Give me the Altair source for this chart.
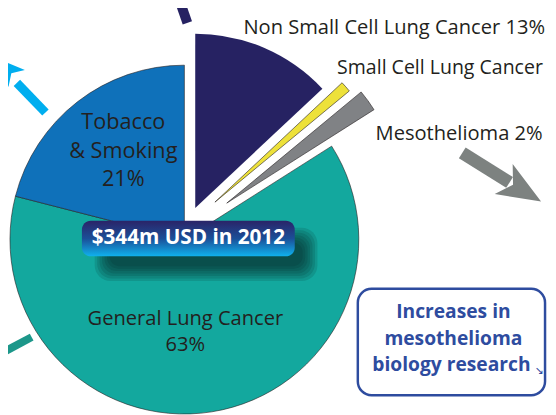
import altair as alt
import pandas as pd

# ---- data ----
categories = ["Non Small Cell Lung Cancer", "Small Cell Lung Cancer", "Mesothelioma",
              "General Lung Cancer", "Tobacco & Smoking"]
shares = [13, 1, 2, 63, 21]
slice_colors = ["#262262", "#ede13a", "#808285", "#13a89e", "#0f71ba"]
total_label = "$344m USD in 2012"
box_lines = ["Increases in", "mesothelioma", "biology research"]

df = pd.DataFrame({"category": categories, "share": shares, "order": list(range(len(categories)))})

W, H = 548, 407
R = 177
FONT = "Open Sans"
DARK = "#231f20"
BOXBLUE = "#2e4c9f"

base = alt.Chart(df).transform_stack(
    stack="share", groupby=[], as_=["t0", "t1"], sort=[alt.SortField("order")]
)
color = alt.Color("category:N", scale=alt.Scale(domain=categories, range=slice_colors), legend=None)
theta = alt.Theta("t0:Q", scale=alt.Scale(domain=[0, 100]))
theta2 = alt.Theta2("t1:Q")


def wedge(cats, cx, cy, sw=0.6):
    return base.transform_filter(
        alt.FieldOneOfPredicate(field="category", oneOf=cats)
    ).mark_arc(x=cx, y=cy, radius=R, stroke=DARK, strokeWidth=sw).encode(
        theta=theta, theta2=theta2, color=color
    )


blank = alt.Data(values=[{}])


def label(text, x, y, size=20.4, align="center", color=DARK, weight="normal", font=FONT):
    return alt.Chart(blank).mark_text(
        align=align, baseline="alphabetic", fontSize=size, font=font,
        fontWeight=weight, color=color
    ).encode(x=alt.value(x), y=alt.value(y), text=alt.value(text))


def bar(x1, y1, x2, y2, color, width):
    return alt.Chart(blank).mark_rule(color=color, strokeWidth=width, strokeCap="butt").encode(
        x=alt.value(x1), y=alt.value(y1), x2=alt.value(x2), y2=alt.value(y2))


HEAD = "M0,-1 L0.8,1 L0,0.5 L-0.8,1 Z"


def head(x, y, angle, size, color):
    return alt.Chart(blank).mark_point(
        shape=HEAD, filled=True, color=color, size=size, angle=angle, opacity=1, strokeWidth=0
    ).encode(x=alt.value(x), y=alt.value(y))


def rect(x1, y1, x2, y2, **kw):
    return alt.Chart(blank).mark_rect(**kw).encode(
        x=alt.value(x1), y=alt.value(y1), x2=alt.value(x2), y2=alt.value(y2))


# soft drop shadow of the badge, built from stacked translucent rounded rects
shadow = [
    rect(88 + 2.5 * i, 220 + 2.5 * i, 314 - 2.5 * i, 274 - 2.5 * i,
         fill="#0a2222", opacity=0.14, cornerRadius=16 - i)
    for i in range(7)
]

layers = [
    # pie
    wedge(["General Lung Cancer", "Tobacco & Smoking"], 179, 232),
    wedge(["Non Small Cell Lung Cancer"], 190, 200, sw=0),
    wedge(["Small Cell Lung Cancer"], 210, 194),
    wedge(["Mesothelioma"], 222, 195),
    # arrows around
    bar(182, 12, 175, -8, "#262262", 10),
    bar(38, 103, 9, 73, "#00aeef", 9),
    head(-2, 58, 314, 900, "#00aeef"),
    bar(24, 331, -8, 348, "#1c978a", 8),
    bar(461, 144, 509, 174, "#7d8280", 13),
    head(522, 182, 121, 1960, "#7d8280"),
    # slice labels
    label(f"{categories[0]} {shares[0]}%", 545, 23, align="right"),
    label(categories[1], 334, 64, size=19.8, align="left"),
    label(f"{categories[2]} {shares[2]}%", 373, 131, align="left"),
    label("Tobacco", 117, 120, size=22),
    label("& Smoking", 117, 149, size=22),
    label(f"{shares[4]}%", 117, 178, size=22),
    label(categories[3], 180, 319),
    label(f"{shares[3]}%", 180, 345),
    *shadow,
    # total badge
    rect(75, 213, 291, 249, cornerRadius=9, fill=alt.Gradient(
        gradient="linear", x1=0, x2=0, y1=0, y2=1,
        stops=[alt.GradientStop(color="#2a2468", offset=0),
               alt.GradientStop(color="#1b4f98", offset=0.5),
               alt.GradientStop(color="#0fb2ee", offset=1)])),
    label(total_label, 183, 236, size=21, color="white", weight="bold"),
    # right box
    rect(355, 282, 545, 390, fill="white", stroke=BOXBLUE, strokeWidth=2.5, cornerRadius=14),
    label(box_lines[0], 452, 312, size=19.5, color=BOXBLUE, weight="bold"),
    label(box_lines[1], 452, 339, size=19.5, color=BOXBLUE, weight="bold"),
    label(box_lines[2], 450, 365, size=19.5, color=BOXBLUE, weight="bold"),
    label("\u2198", 539, 368, size=11, color=BOXBLUE, align="center", font="DejaVu Sans"),
]

chart = alt.layer(*layers).properties(
    width=W, height=H, padding=0, autosize=alt.AutoSizeParams(type="none"),
    background="white"
).configure_view(stroke=None)

chart.save("out.html", embed_options={"renderer": "svg", "actions": False})
